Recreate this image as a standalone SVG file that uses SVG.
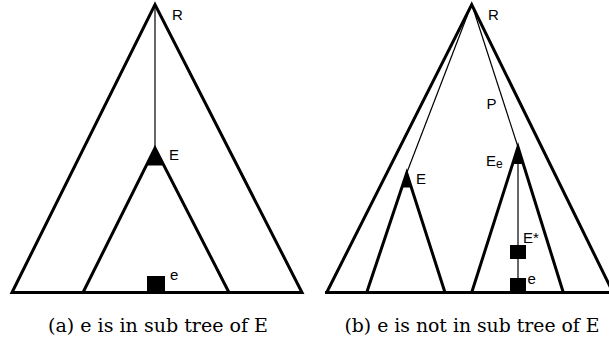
<svg xmlns="http://www.w3.org/2000/svg" width="609" height="343" viewBox="0 0 609 343">
<style>
.thick{fill:none;stroke:#000;stroke-width:3;stroke-linejoin:miter;stroke-miterlimit:10}
.thin{fill:none;stroke:#000;stroke-width:1.2}
.blk{fill:#000;stroke:none}
.lbl{font-family:"Liberation Sans",Arial,sans-serif;font-size:15px;fill:#000}
.cap{font-family:"DejaVu Serif","Liberation Serif",serif;font-size:18px;fill:#000}
</style>
<rect width="609" height="343" fill="#fff"/>
<g id="panel-a">
  <g id="a-tree-R">
    <path class="thick" d="M12 292.5 L155 4.5 L302 292.5 Z"/>
    <text class="lbl" x="172" y="19.5">R</text>
  </g>
  <g id="a-connectors">
    <line class="thin" x1="155" y1="4" x2="155" y2="148"/>
  </g>
  <g id="a-subtree-E">
    <path class="thick" d="M83 292.5 L155 148 L229 292.5"/>
    <polygon class="blk" points="155,147 146,165.5 164,165.5"/>
    <text class="lbl" x="169" y="159.5">E</text>
  </g>
  <g id="a-node-e">
    <rect class="blk" x="147" y="276" width="18" height="17"/>
    <text class="lbl" x="170" y="280">e</text>
  </g>
</g>
<g id="panel-b">
  <g id="b-tree-R">
    <path class="thick" d="M326.7 292.5 L471.7 4.5 L613 292.5"/>
    <line class="thick" x1="325" y1="292.5" x2="609" y2="292.5"/>
    <text class="lbl" x="488" y="19.5">R</text>
  </g>
  <g id="b-connectors">
    <line class="thin" x1="471.7" y1="4" x2="406.7" y2="173"/>
    <line class="thin" x1="471.7" y1="4" x2="518" y2="147"/>
    <line class="thin" x1="518" y1="147" x2="518" y2="292"/>
    <text class="lbl" x="486.5" y="108.5">P</text>
  </g>
  <g id="b-subtree-E">
    <path class="thick" d="M366.7 292.5 L406.7 173 L445 292.5"/>
    <polygon class="blk" points="406.7,172 401.5,187.5 411.5,187.5"/>
    <text class="lbl" x="416" y="183.5">E</text>
  </g>
  <g id="b-subtree-Ee">
    <path class="thick" d="M471.7 292.5 L518 147 L563.3 292.5"/>
    <polygon class="blk" points="518,146 512.3,164 523.7,164"/>
    <text class="lbl" x="486" y="166">E<tspan font-size="12" dy="2">e</tspan></text>
  </g>
  <g id="b-node-Estar">
    <rect class="blk" x="510" y="245" width="16" height="14"/>
    <text class="lbl" x="523" y="242.5">E*</text>
  </g>
  <g id="b-node-e">
    <rect class="blk" x="510" y="278" width="16" height="15"/>
    <text class="lbl" x="527.5" y="284">e</text>
  </g>
</g>
<g id="captions">
  <text class="cap" x="158" y="332" text-anchor="middle" textLength="220" lengthAdjust="spacingAndGlyphs">(a) e is in sub tree of E</text>
  <text class="cap" x="472" y="332" text-anchor="middle" textLength="255" lengthAdjust="spacingAndGlyphs">(b) e is not in sub tree of E</text>
</g>
</svg>
